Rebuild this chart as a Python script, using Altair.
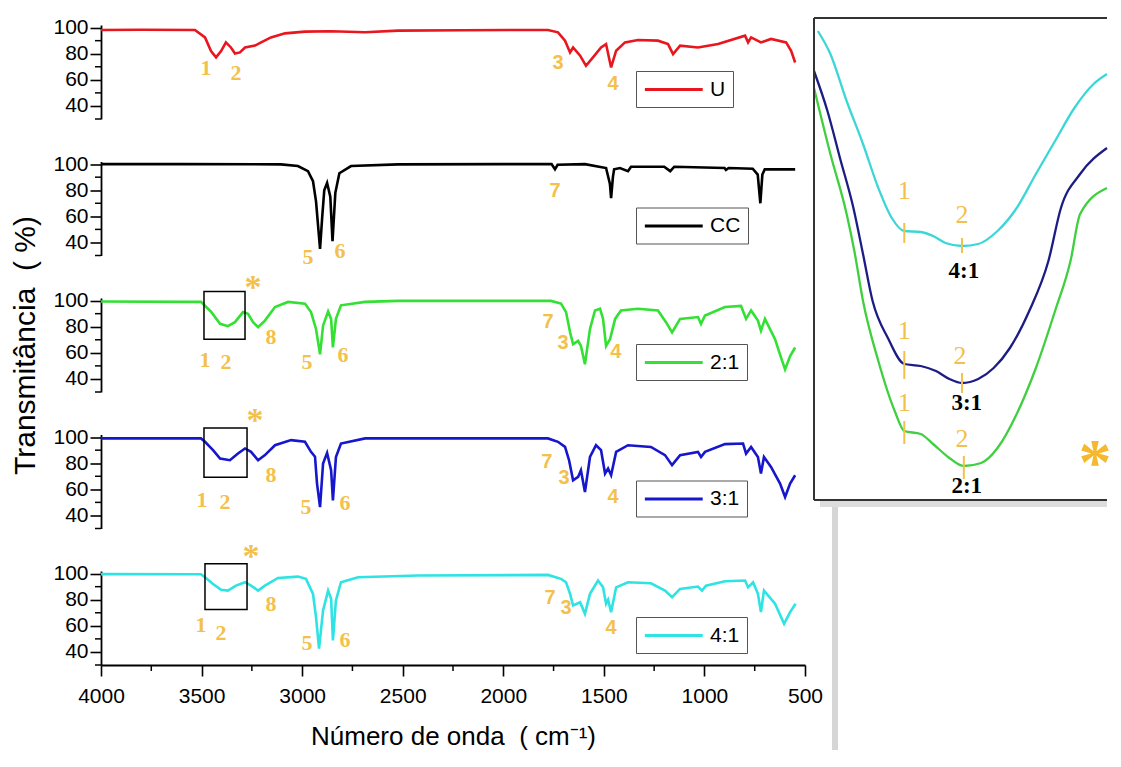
import altair as alt
import pandas as pd

ORANGE = "#F3C14B"
FONT = "Liberation Sans"
SERIF = "Liberation Serif"

# ---------------- main spectra (wavenumber cm-1, transmittance %) ----------------
U_WN = [4000, 3800, 3533, 3483, 3453, 3428, 3403, 3379, 3354, 3334, 3309, 3284, 3234, 3204,
        3155, 3085, 2986, 2856, 2687, 2523, 2200, 1900, 1778, 1728, 1693, 1668, 1653, 1618,
        1589, 1554, 1514, 1489, 1464, 1439, 1395, 1330, 1231, 1181, 1156, 1121, 1032, 932,
        798, 783, 768, 719, 669, 594, 569, 549]
U_T = [98.2, 98.4, 98.2, 92.5, 82.0, 77.2, 82.0, 88.7, 84.8, 80.2, 81.0, 84.8, 86.2, 88.7,
       92.5, 95.6, 96.9, 97.2, 96.4, 97.7, 98.0, 98.2, 98.2, 96.4, 90.0, 81.0, 84.8, 78.5,
       70.8, 77.2, 84.8, 87.4, 69.5, 82.3, 88.7, 90.5, 90.0, 87.4, 79.7, 86.2, 84.8, 87.4,
       93.8, 88.7, 92.5, 88.7, 91.3, 88.7, 82.3, 73.3]

CC_WN = [4000, 3600, 3105, 3021, 2971, 2946, 2931, 2911, 2900, 2890, 2876, 2860, 2849, 2835,
         2815, 2757, 2523, 2000, 1760, 1743, 1730, 1594, 1489, 1470, 1464, 1455, 1449, 1420,
         1380, 1365, 1200, 1170, 1150, 900, 893, 880, 760, 735, 722, 712, 700, 684, 549]
CC_T = [100, 100, 99.8, 98.5, 94.6, 86.9, 71.5, 35.0, 60.0, 80.0, 85.6, 75.0, 41.0, 78.0,
        93.0, 98.5, 99.8, 100, 100, 96.0, 99.5, 100, 97.0, 85.0, 74.0, 90.0, 96.0, 97.0,
        94.6, 98.0, 98.0, 94.6, 98.0, 97.0, 95.5, 97.0, 96.5, 92.0, 70.0, 92.0, 96.0, 96.0, 96.0]

G21_WN = [4000, 3553, 3503, 3453, 3408, 3369, 3334, 3294, 3269, 3244, 3219, 3185, 3135, 3070,
          2986, 2956, 2931, 2911, 2896, 2871, 2856, 2847, 2832, 2807, 2687, 2523, 1763, 1713,
          1688, 1668, 1653, 1628, 1614, 1594, 1569, 1544, 1519, 1504, 1489, 1469, 1444, 1415,
          1330, 1231, 1191, 1161, 1121, 1032, 1017, 997, 898, 818, 793, 768, 734, 719, 699,
          649, 619, 599, 574, 549]
G21_T = [99.3, 99.0, 99.0, 91.5, 82.2, 80.4, 83.5, 91.2, 89.9, 83.5, 79.6, 84.7, 95.1, 99.0,
         97.7, 91.2, 78.3, 58.9, 80.8, 91.7, 86.0, 64.1, 86.0, 96.4, 99.0, 99.8, 99.8, 97.7,
         91.2, 75.7, 66.7, 69.2, 65.3, 51.2, 78.3, 92.5, 93.8, 86.0, 65.3, 70.5, 86.0, 92.5,
         93.8, 92.5, 83.5, 75.7, 86.0, 87.4, 82.2, 88.6, 95.1, 95.9, 86.0, 92.5, 84.7, 77.0, 86.0,
         70.5, 56.4, 47.3, 57.6, 64.1]

B31_WN = [4000, 3503, 3483, 3443, 3408, 3359, 3319, 3284, 3254, 3219, 3185, 3135, 3055, 2986,
          2956, 2936, 2926, 2911, 2896, 2876, 2856, 2847, 2832, 2807, 2687, 2523, 1778, 1728,
          1693, 1673, 1653, 1628, 1614, 1594, 1569, 1539, 1514, 1494, 1479, 1464, 1439, 1380,
          1266, 1196, 1161, 1121, 1032, 1017, 997, 898, 808, 793, 768, 734, 719, 704, 669,
          624, 599, 574, 549]
B31_T = [99.0, 99.0, 96.4, 90.0, 83.6, 82.3, 87.4, 91.3, 88.7, 82.3, 86.2, 93.8, 97.7, 96.4,
         88.7, 85.0, 64.4, 46.4, 79.8, 87.9, 74.6, 51.5, 84.8, 95.1, 99.0, 99.0, 99.0, 96.4,
         92.5, 82.3, 66.9, 69.5, 74.6, 57.9, 84.8, 93.8, 90.0, 72.1, 75.9, 70.8, 88.7, 93.8,
         92.5, 86.2, 78.5, 86.2, 88.7, 84.8, 88.7, 94.6, 95.1, 87.4, 92.5, 84.8, 72.1, 84.8, 77.2,
         64.4, 54.1, 64.4, 70.8]

C41_WN = [4000, 3503, 3483, 3443, 3403, 3369, 3329, 3284, 3254, 3219, 3185, 3120, 3021, 2981,
          2946, 2931, 2916, 2896, 2871, 2856, 2847, 2832, 2807, 2722, 2424, 1778, 1713, 1688,
          1668, 1653, 1618, 1594, 1569, 1529, 1504, 1489, 1479, 1464, 1439, 1380, 1266, 1196,
          1161, 1121, 1032, 1012, 992, 898, 798, 783, 758, 734, 719, 704, 649, 604, 574, 547]
C41_T = [99.6, 99.5, 97.2, 92.1, 87.6, 87.0, 90.8, 93.4, 90.8, 87.0, 90.8, 96.7, 97.7, 96.0,
         84.5, 66.7, 42.5, 71.8, 87.0, 80.7, 48.9, 79.4, 93.4, 97.2, 98.5, 99.0, 96.0, 93.4,
         84.5, 75.6, 78.1, 69.2, 84.5, 94.7, 89.5, 76.9, 80.0, 70.5, 89.5, 93.4, 92.6, 87.0,
         81.9, 88.3, 90.1, 87.0, 90.8, 94.1, 94.7, 89.5, 93.4, 84.5, 70.5, 87.0, 76.9, 61.6, 70.5, 76.9]

# band labels: (wavenumber, transmittance, text, style)
U_LAB = [(3478, 69.2, "1", "serif"), (3329, 65.4, "2", "serif"),
         (1728, 73.0, "3", "sans"), (1454, 56.9, "4", "sans")]
CC_LAB = [(2971, 29.2, "5", "serif"), (2812, 33.1, "6", "serif"), (1743, 79.2, "7", "sans")]
G21_LAB = [(3483, 54.8, "1", "serif"), (3379, 53.2, "2", "serif"), (3155, 71.9, "8", "serif"),
           (2976, 53.2, "5", "serif"), (2797, 58.7, "6", "serif"), (1778, 83.6, "7", "sans"),
           (1703, 67.3, "3", "sans"), (1440, 61.0, "4", "sans")]
B31_LAB = [(3498, 51.5, "1", "serif"), (3384, 50.0, "2", "serif"), (3155, 70.8, "8", "serif"),
           (2981, 46.2, "5", "serif"), (2787, 49.2, "6", "serif"), (1783, 80.8, "7", "sans"),
           (1698, 68.5, "3", "sans"), (1454, 53.8, "4", "sans")]
C41_LAB = [(3503, 60.3, "1", "serif"), (3403, 54.2, "2", "serif"), (3155, 77.1, "8", "serif"),
           (2976, 46.6, "5", "serif"), (2787, 48.9, "6", "serif"), (1768, 81.7, "7", "sans"),
           (1688, 73.3, "3", "sans"), (1464, 58.0, "4", "sans")]

# zoom boxes (wn left, wn right, T low, T high) and asterisk positions
G21_BOX = (3488, 3284, 70.4, 107.0)
B31_BOX = (3488, 3274, 69.2, 106.9)
C41_BOX = (3483, 3274, 72.5, 107.6)
G21_STAR = (3244, 115.6)
B31_STAR = (3234, 118.5)
C41_STAR = (3254, 119.0)

X_TICKS = [4000, 3500, 3000, 2500, 2000, 1500, 1000, 500]
X_MINOR = [3750, 3250, 2750, 2250, 1750, 1250, 750]
Y_TICKS = [40, 60, 80, 100]
Y_MINOR = [30, 50, 70, 90]

# ---------------- inset (zoom of the boxed region) ----------------
IN_C_WN = [3477.1, 3467.7, 3455.5, 3443.2, 3431.7, 3421.6, 3412.2, 3399.9, 3390.6, 3381.2,
           3368.9, 3356.7, 3342.2, 3327.8, 3313.4, 3299.0, 3284.5, 3270.1, 3260.0]
IN_C_T = [23.4, 22.25, 19.9, 17.75, 15.55, 14.05, 13.4, 13.35, 13.15, 12.8, 12.65, 12.75,
          13.4, 14.55, 16.25, 17.9, 19.55, 20.75, 21.25]
IN_B_WN = [3480.0, 3469.9, 3460.5, 3450.4, 3443.2, 3436.0, 3424.5, 3412.2, 3399.9, 3388.4,
           3378.3, 3368.9, 3356.7, 3345.1, 3332.9, 3318.4, 3304.0, 3294.6, 3280.2, 3260.0]
IN_B_T = [21.4, 19.4, 17.05, 14.55, 12.25, 9.9, 8.05, 6.75, 6.65, 6.4, 6.0, 5.8, 6.0, 6.55,
          7.55, 9.4, 11.9, 14.55, 16.25, 17.55]
IN_G_WN = [3480.0, 3467.7, 3455.5, 3449.7, 3443.2, 3431.7, 3419.4, 3412.2, 3399.9, 3390.6,
           3378.3, 3367.5, 3354.5, 3342.2, 3327.8, 3313.4, 3299.0, 3287.4, 3280.2, 3260.0]
IN_G_T = [20.55, 17.25, 14.25, 12.4, 9.9, 6.9, 4.4, 3.4, 3.25, 2.75, 2.05, 1.65, 1.8, 2.55,
          4.25, 6.55, 9.4, 11.9, 14.25, 15.55]
IN_MARKS = [(3412.2, 12.8, 13.8), (3368.9, 12.3, 13.05), (3412.2, 6.0, 7.4),
            (3368.9, 5.3, 6.3), (3412.2, 2.75, 3.9), (3367.5, 1.0, 2.15)]
IN_NUM = [(3412.2, 15.4, "1"), (3368.9, 14.2, "2"), (3412.2, 8.4, "1"),
          (3370.3, 7.15, "2"), (3412.2, 4.8, "1"), (3368.9, 3.0, "2")]
IN_NAMES = [(3367.5, 11.4, "4:1"), (3365.3, 4.8, "3:1"), (3365.3, 0.65, "2:1")]
IN_STAR = (3269.0, 2.45)

# ---------------- layout constants ----------------
W, H = 704, 94
IX0, IX1 = 713, 1006     # inset horizontal extent, relative to the plot origin
IH = 474                 # inset height (from top of the first panel)

NB = "\u00a0"
YTITLE = f"Transmitância{NB}{NB}({NB}%)"
XTITLE = f"Número de onda{NB}{NB}({NB}cm⁻¹)"


def build_inset():
    ixs = alt.Scale(domain=[3260, 3480], range=[IX1, IX0], nice=False, zero=False)
    iys = alt.Scale(domain=[0, 23.7], range=[IH, 0], nice=False, zero=False)
    idf = pd.concat([
        pd.DataFrame({"wn": IN_C_WN, "T": IN_C_T, "s": "4:1"}),
        pd.DataFrame({"wn": IN_B_WN, "T": IN_B_T, "s": "3:1"}),
        pd.DataFrame({"wn": IN_G_WN, "T": IN_G_T, "s": "2:1"}),
    ])
    X = lambda f: alt.X(f, scale=ixs, axis=None)
    Y = lambda f: alt.Y(f, scale=iys, axis=None)
    one = pd.DataFrame({"k": [0]})
    shadow_v = alt.Chart(one).mark_rule(color="#D6D6D6", strokeWidth=6).encode(
        x=alt.value(IX0 + 21), y=alt.value(IH + 4), y2=alt.value(IH + 251))
    shadow_h = alt.Chart(one).mark_rule(color="#DDDDDD", strokeWidth=6).encode(
        x=alt.value(IX0 + 6), x2=alt.value(IX1), y=alt.value(IH + 5))
    lines = alt.Chart(idf).mark_line(strokeWidth=2.3, clip=False, interpolate="monotone").encode(
        x=X("wn:Q"), y=Y("T:Q"),
        color=alt.Color("s:N", scale=alt.Scale(domain=["4:1", "3:1", "2:1"],
                                               range=["#3DD6D6", "#1C1C85", "#3FCF3F"]),
                        legend=None),
        detail="s:N")
    marks = alt.Chart(pd.DataFrame(IN_MARKS, columns=["wn", "t1", "t2"])).mark_rule(
        color=ORANGE, strokeWidth=2).encode(x=X("wn:Q"), y=Y("t1:Q"), y2="t2:Q")
    num = alt.Chart(pd.DataFrame(IN_NUM, columns=["wn", "T", "txt"])).mark_text(
        font=SERIF, fontSize=26, color=ORANGE, align="center", baseline="middle").encode(
        x=X("wn:Q"), y=Y("T:Q"), text="txt:N")
    names = alt.Chart(pd.DataFrame(IN_NAMES, columns=["wn", "T", "txt"])).mark_text(
        font=SERIF, fontWeight="bold", fontSize=23, color="black", align="center",
        baseline="middle").encode(x=X("wn:Q"), y=Y("T:Q"), text="txt:N")
    star = alt.Chart(pd.DataFrame({"wn": [IN_STAR[0]], "T": [IN_STAR[1]], "txt": ["*"]})).mark_text(
        font=SERIF, fontWeight="bold", fontSize=66, color="#F5B82E", align="center",
        baseline="middle", dy=14).encode(x=X("wn:Q"), y=Y("T:Q"), text="txt:N")
    ftop = alt.Chart(one).mark_rule(color="#333333", strokeWidth=2).encode(
        x=alt.value(IX0), x2=alt.value(IX1), y=alt.value(-7))
    fbot = alt.Chart(one).mark_rule(color="#333333", strokeWidth=2).encode(
        x=alt.value(IX0), x2=alt.value(IX1), y=alt.value(IH + 1))
    fleft = alt.Chart(one).mark_rule(color="#333333", strokeWidth=2).encode(
        x=alt.value(IX0), y=alt.value(-7), y2=alt.value(IH + 1))
    return alt.layer(shadow_v, shadow_h, lines, marks, num, names, star, ftop, fbot, fleft)


def main_panel(idx, name, color, wn, tv, labels, box=None, star=None, inset=None):
    xs = alt.Scale(domain=[500, 4000], reverse=True, nice=False, zero=False)
    ys = alt.Scale(domain=[30, 102], nice=False, zero=False)
    bottom = idx == 4
    if bottom:
        xaxis = alt.Axis(values=X_TICKS, format="d", tickSize=11, tickWidth=1.6,
                         domainWidth=1.8, labelFontSize=21, labelPadding=9,
                         title=XTITLE, titleFontSize=26, titleFontWeight="normal",
                         titlePadding=17, grid=False, labelFlush=False)
    else:
        xaxis = None
    yargs = dict(values=Y_TICKS, tickSize=11, tickWidth=1.6, domainWidth=1.8,
                 labelFontSize=21, labelPadding=2, grid=False)
    if idx == 2:
        yaxis = alt.Axis(title=YTITLE, titleFontSize=30, titleFontWeight="normal",
                         titlePadding=12, **yargs)
    else:
        yaxis = alt.Axis(title=None, **yargs)

    X = lambda f: alt.X(f, scale=xs, axis=xaxis)
    Y = lambda f: alt.Y(f, scale=ys, axis=yaxis)

    df = pd.DataFrame({"wn": wn, "T": tv, "amostra": [name] * len(wn)})
    line = alt.Chart(df).mark_line(strokeWidth=2.6, clip=False).encode(
        x=X("wn:Q"), y=Y("T:Q"),
        color=alt.Color("amostra:N", scale=alt.Scale(domain=[name], range=[color]),
                        legend=alt.Legend(title=None, orient="none", legendX=535, legendY=46,
                                          symbolType="M-1,0H5", symbolSize=372,
                                          symbolStrokeWidth=2.8, labelFontSize=21,
                                          labelFont=FONT, labelColor="black",
                                          strokeColor="#555555", fillColor="white",
                                          padding=7, labelOffset=44)),
    )
    layers = [line]

    ldf = pd.DataFrame(labels, columns=["wn", "T", "txt", "style"])
    serif = alt.Chart(ldf).transform_filter(alt.datum.style == "serif").mark_text(
        font=SERIF, fontWeight="bold", fontSize=22, color=ORANGE, align="center",
        baseline="middle").encode(x=X("wn:Q"), y=Y("T:Q"), text="txt:N")
    sans = alt.Chart(ldf).transform_filter(alt.datum.style == "sans").mark_text(
        font=FONT, fontWeight="bold", fontSize=20, color=ORANGE, align="center",
        baseline="middle").encode(x=X("wn:Q"), y=Y("T:Q"), text="txt:N")
    layers += [serif, sans]

    if box is not None:
        bdf = pd.DataFrame({"wn": [box[0]], "x2": [box[1]], "T": [box[2]], "y2": [box[3]]})
        rect = alt.Chart(bdf).mark_rect(fillOpacity=0, stroke="black", strokeWidth=1.5,
                                        clip=False).encode(
            x=X("wn:Q"), x2="x2:Q", y=Y("T:Q"), y2="y2:Q")
        layers.append(rect)
    if star is not None:
        sdf = pd.DataFrame({"wn": [star[0]], "T": [star[1]], "txt": ["*"]})
        st = alt.Chart(sdf).mark_text(font=SERIF, fontWeight="bold", fontSize=34, color=ORANGE,
                                      align="center", baseline="middle", dy=8).encode(
            x=X("wn:Q"), y=Y("T:Q"), text="txt:N")
        layers.append(st)

    ymin = alt.Chart(pd.DataFrame({"T": Y_MINOR})).mark_rule(color="black", strokeWidth=1.5).encode(
        x=alt.value(-6), x2=alt.value(0), y=Y("T:Q"))
    layers.append(ymin)
    if bottom:
        xmin = alt.Chart(pd.DataFrame({"wn": X_MINOR})).mark_rule(color="black", strokeWidth=1.5).encode(
            x=X("wn:Q"), y=alt.value(H), y2=alt.value(H + 6))
        layers.append(xmin)

    main_layer = alt.layer(*layers)
    if inset is not None:
        return alt.layer(main_layer, inset).resolve_scale(
            x="independent", y="independent", color="independent").properties(width=W, height=H)
    return main_layer.properties(width=W, height=H)


panels = [
    main_panel(0, "U", "#E8161E", U_WN, U_T, U_LAB, inset=build_inset()),
    main_panel(1, "CC", "#000000", CC_WN, CC_T, CC_LAB),
    main_panel(2, "2:1", "#33E033", G21_WN, G21_T, G21_LAB, G21_BOX, G21_STAR),
    main_panel(3, "3:1", "#1616CC", B31_WN, B31_T, B31_LAB, B31_BOX, B31_STAR),
    main_panel(4, "4:1", "#2EE3E3", C41_WN, C41_T, C41_LAB, C41_BOX, C41_STAR),
]

chart = alt.vconcat(*panels, spacing=42.5, bounds="flush").resolve_scale(
    color="independent").resolve_legend(color="independent").properties(
    padding={"left": 2, "top": 8, "right": 0, "bottom": 0}
).configure_view(stroke=None).configure_axis(
    domainColor="black", tickColor="black", labelColor="black", titleColor="black",
    labelFont=FONT, titleFont=FONT
)

chart.save("out.html", embed_options={"renderer": "svg", "actions": False})
